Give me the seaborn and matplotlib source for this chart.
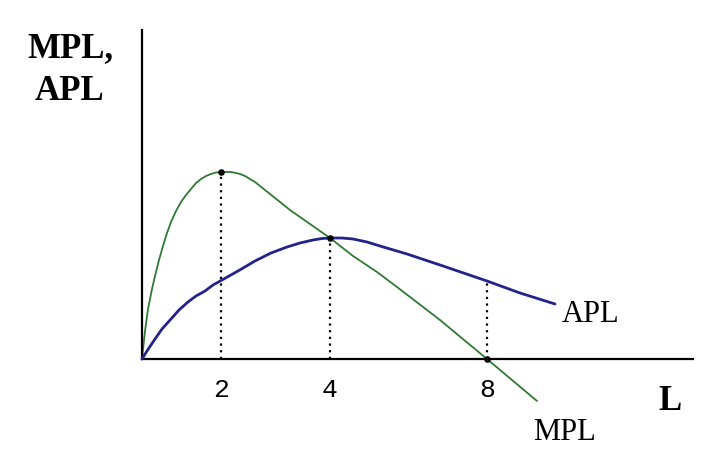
import numpy as np
import pandas as pd
import matplotlib
matplotlib.use("Agg")
import matplotlib.pyplot as plt
import seaborn as sns

sns.set_style("white")
plt.rcParams['font.family'] = ['Liberation Serif', 'DejaVu Serif']
plt.rcParams['text.color'] = 'black'

# curves (schematic units: L axis is not to scale)
mpl_x = [0.0, 0.3, 0.6, 1.0, 1.3, 1.7, 2.1, 2.5, 2.9, 3.4, 3.9, 4.4, 4.9,
         5.4, 5.9, 6.4, 6.9, 7.4, 7.9, 8.4, 8.9, 9.4, 9.8, 10.3, 10.8, 11.3,
         11.8, 12.8, 13.8, 14.8, 15.8, 16.8, 17.8, 18.8, 21.1, 23.5, 25.5,
         29.8, 34.5, 39.5]
mpl_y = [0.0, 2.8, 5.0, 7.0, 8.3, 9.9, 11.3, 12.6, 13.7, 14.8, 15.7, 16.4,
         17.0, 17.6, 18.0, 18.3, 18.5, 18.65, 18.7, 18.7, 18.7, 18.6, 18.5,
         18.3, 18.0, 17.7, 17.3, 16.5, 15.7, 14.9, 14.2, 13.5, 12.8, 12.1,
         10.3, 8.7, 7.2, 3.9, 0.0, -4.2]
apl_x = [0.0, 0.5, 1.3, 2.0, 2.9, 3.7, 4.6, 5.4, 6.3, 7.1, 8.0, 9.6, 11.3,
         12.9, 14.5, 15.8, 17.1, 18.0, 18.8, 20.0, 21.1, 22.5, 23.8, 26.5,
         30.1, 34.5, 37.8, 41.3]
apl_y = [0.0, 0.8, 2.0, 3.0, 4.0, 4.9, 5.7, 6.3, 6.8, 7.4, 7.9, 8.8, 9.8,
         10.6, 11.2, 11.6, 11.9, 12.05, 12.1, 12.1, 12.0, 11.7, 11.3, 10.5,
         9.3, 7.8, 6.6, 5.5]

# key points: MPL max, MPL = APL, MPL = 0
key_x = [7.9, 18.8, 34.5]
key_labels = ["2", "4", "8"]
drop_top = [18.7, 12.1, 7.8]   # height where each dotted line ends
dot_y = [18.7, 12.1, 0.0]

df_mpl = pd.DataFrame({"L": mpl_x, "v": mpl_y})
df_apl = pd.DataFrame({"L": apl_x, "v": apl_y})

fig = plt.figure(figsize=(7.2, 4.64), dpi=100)
ax = fig.add_axes([142 / 720, 104 / 464, 551 / 720, 329 / 464])

# dotted drop lines
ax.vlines(key_x, 0, drop_top, colors="black", linestyles=(0, (1, 2)),
          lw=1.6, zorder=1)

sns.lineplot(data=df_mpl, x="L", y="v", sort=False, ax=ax, color="#2f7a35",
             lw=1.3, clip_on=False, zorder=2)
sns.lineplot(data=df_apl, x="L", y="v", sort=False, ax=ax, color="#23238c",
             lw=2.0, clip_on=False, zorder=3)
ax.scatter(key_x, dot_y, s=14, color="black", zorder=4, clip_on=False)

ax.set_xlim(0, 55.1)
ax.set_ylim(0, 32.9)
ax.set_xticks(key_x)
ax.set_xticklabels(key_labels, family="Liberation Mono", fontsize=19)
ax.set_yticks([])
ax.tick_params(axis="x", length=0, pad=13, labelcolor="black")
ax.set_xlabel("")
ax.set_ylabel("")
for s in ["top", "right"]:
    ax.spines[s].set_visible(False)
for s in ["left", "bottom"]:
    ax.spines[s].set_color("black")
    ax.spines[s].set_linewidth(1.6)

ax.text(42.0, 3.8, "APL", fontsize=22, va="baseline", ha="left")
ax.text(39.1, -8.0, "MPL", fontsize=22, va="baseline", ha="left")
ax.text(51.6, -5.0, "L", fontsize=25, fontweight="bold", va="baseline", ha="left")

fig.text(27 / 720, 1 - 57 / 464, "MPL,", fontsize=25, fontweight="bold",
         va="baseline", ha="left")
fig.text(35 / 720, 1 - 100 / 464, "APL", fontsize=25, fontweight="bold",
         va="baseline", ha="left")

fig.savefig("out.png", dpi=100)
